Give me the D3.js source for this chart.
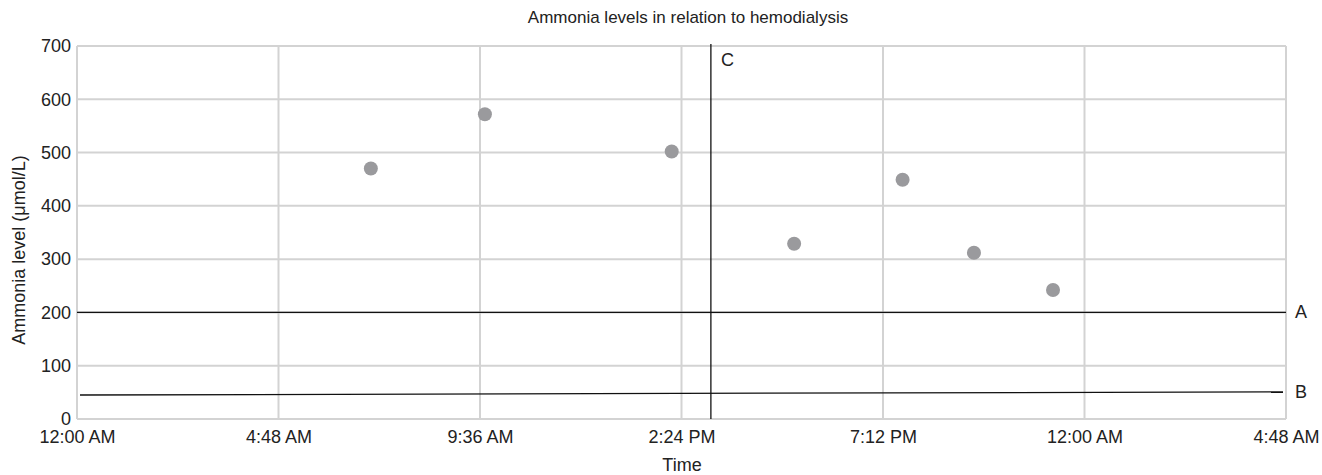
<!DOCTYPE html>
<html>
<head>
<meta charset="utf-8">
<script src="https://cdn.jsdelivr.net/npm/d3@7"></script>
<style>
body { margin: 0; background: #fff; }
text { font-family: "Liberation Sans", Arial, sans-serif; fill: #222; }
</style>
</head>
<body>
<svg id="chart" width="1322" height="475"></svg>
<script>
var svg = d3.select('svg#chart');

// readings: time of day (hours, minutes) and ammonia level
var times = [[7, 0], [9, 43], [14, 10], [17, 5], [19, 40], [21, 22], [23, 15]];
var levels = [470, 572, 502, 329, 449, 312, 242];
var lineA = 200;
var lineB = [45, 51];
var lineC = [15, 6];
var yTicks = [0, 100, 200, 300, 400, 500, 600, 700];

function day(h, m) { return new Date(2020, 0, 1, h, m); }

var t0 = day(0, 0);
var t1 = new Date(t0.getTime() + 28.8 * 3600 * 1000);
var x = d3.scaleTime().domain([t0, t1]).range([77, 1286]);
var y = d3.scaleLinear().domain([0, 700]).range([419, 46]);

var xTicks = d3.range(0, 7).map(function(i){ return new Date(t0.getTime() + i * 4.8 * 3600 * 1000); });
var fmt = d3.timeFormat('%-I:%M %p');

// grid
svg.append('g').selectAll('line').data(xTicks).enter().append('line')
  .attr('x1', function(d){ return x(d); }).attr('x2', function(d){ return x(d); })
  .attr('y1', y(0)).attr('y2', y(700))
  .attr('stroke', '#d3d3d3').attr('stroke-width', 2);
svg.append('g').selectAll('line').data(yTicks).enter().append('line')
  .attr('x1', x(t0)).attr('x2', x(t1))
  .attr('y1', function(d){ return y(d); }).attr('y2', function(d){ return y(d); })
  .attr('stroke', '#d3d3d3').attr('stroke-width', 2);

// axes
var xAxis = d3.axisBottom(x).tickValues(xTicks).tickFormat(fmt).tickSize(0).tickPadding(11);
var gx = svg.append('g').attr('transform', 'translate(0,' + y(0) + ')').call(xAxis);
gx.select('.domain').remove();
gx.selectAll('text').style('font-size', '18px').attr('fill', '#222');

var yAxis = d3.axisLeft(y).tickValues(yTicks).tickSize(0).tickPadding(6);
var gy = svg.append('g').attr('transform', 'translate(' + x(t0) + ',0)').call(yAxis);
gy.select('.domain').remove();
gy.selectAll('text').style('font-size', '18px').attr('fill', '#222');

// reference lines
svg.append('line')
  .attr('x1', x(t0)).attr('x2', x(t1)).attr('y1', y(lineA)).attr('y2', y(lineA))
  .attr('stroke', '#111').attr('stroke-width', 1.3);
svg.append('line')
  .attr('x1', x(t0) + 3).attr('x2', x(t1) - 3).attr('y1', y(lineB[0])).attr('y2', y(lineB[1]))
  .attr('stroke', '#111').attr('stroke-width', 1.3);
var cx = x(day(lineC[0], lineC[1]));
svg.append('line')
  .attr('x1', cx).attr('x2', cx).attr('y1', y(700) - 2).attr('y2', y(0))
  .attr('stroke', '#111').attr('stroke-width', 1.3);

svg.append('text').attr('x', x(t1) + 9).attr('y', y(lineA) + 6).style('font-size', '18px').text('A');
svg.append('text').attr('x', x(t1) + 9).attr('y', y(lineB[1]) + 6).style('font-size', '18px').text('B');
svg.append('text').attr('x', cx + 10).attr('y', y(700) + 20).style('font-size', '18px').text('C');

// points
svg.append('g').selectAll('circle').data(levels).enter().append('circle')
  .attr('cx', function(d, i){ return x(day(times[i][0], times[i][1])); })
  .attr('cy', function(d){ return y(d); })
  .attr('r', 7)
  .attr('fill', '#9a9a9d');

// titles
svg.append('text').attr('x', 688).attr('y', 23).attr('text-anchor', 'middle')
  .style('font-size', '17px').text('Ammonia levels in relation to hemodialysis');
svg.append('text').attr('x', 682).attr('y', 471).attr('text-anchor', 'middle')
  .style('font-size', '18px').text('Time');
svg.append('text').attr('transform', 'translate(25,250) rotate(-90)')
  .attr('text-anchor', 'middle').style('font-size', '18px').text('Ammonia level (μmol/L)');
</script>
</body>
</html>
